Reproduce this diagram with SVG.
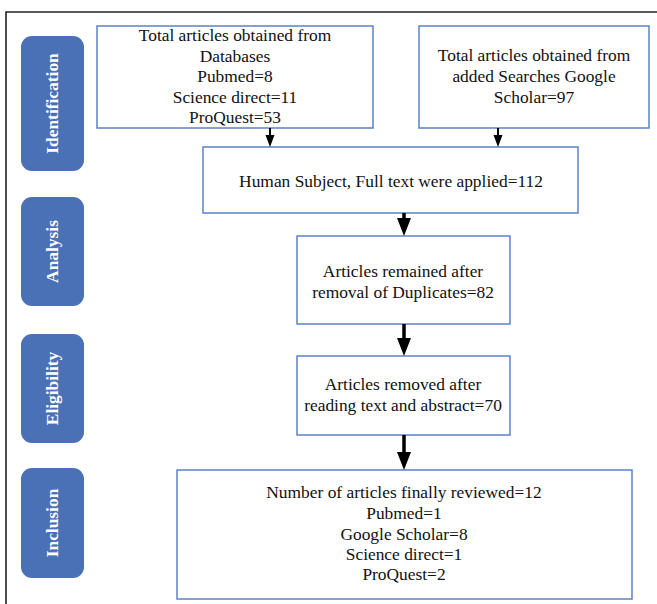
<svg xmlns="http://www.w3.org/2000/svg" width="657" height="604" viewBox="0 0 657 604">
<defs>
<style>
.box{fill:#ffffff;stroke:#5B82C8;stroke-width:1.5}
.pill{fill:#4A70B6}
.t{font-family:"Liberation Serif","Times New Roman",serif;font-size:17.4px;fill:#111;text-anchor:middle}
.p{font-family:"Liberation Serif","Times New Roman",serif;font-size:17.4px;font-weight:bold;fill:#ffffff;text-anchor:middle}
.sa{stroke:#000;stroke-width:2;fill:none}
.la{stroke:#000;stroke-width:3.5;fill:none}
</style>
</defs>
<rect width="657" height="604" fill="#ffffff"/>
<path d="M6,604 V12 H657" fill="none" stroke="#222" stroke-width="1.6"/>
<g id="stage-identification"><rect class="pill" x="21" y="36" width="63" height="135" rx="11"/><text class="p" transform="translate(58,103.5) rotate(-90)">Identification</text></g>
<g id="stage-analysis"><rect class="pill" x="21" y="197" width="63" height="109" rx="11"/><text class="p" transform="translate(58,251.5) rotate(-90)">Analysis</text></g>
<g id="stage-eligibility"><rect class="pill" x="21" y="334" width="63" height="109" rx="11"/><text class="p" transform="translate(58,388.5) rotate(-90)">Eligibility</text></g>
<g id="stage-inclusion"><rect class="pill" x="21" y="468" width="63" height="110" rx="11"/><text class="p" transform="translate(58,523) rotate(-90)">Inclusion</text></g>
<g id="databases"><rect class="box" x="97" y="26" width="276" height="102"/>
<text class="t" x="235" y="41">Total articles obtained from</text>
<text class="t" x="235" y="61.5">Databases</text>
<text class="t" x="235" y="82">Pubmed=8</text>
<text class="t" x="235" y="102.5">Science direct=11</text>
<text class="t" x="235" y="123">ProQuest=53</text></g>
<g id="google-scholar"><rect class="box" x="419" y="26" width="230" height="102"/>
<text class="t" x="534" y="61">Total articles obtained from</text>
<text class="t" x="534" y="82">added Searches Google</text>
<text class="t" x="534" y="102.5">Scholar=97</text></g>
<g id="human-subject"><rect class="box" x="203" y="147" width="375" height="66"/>
<text class="t" x="391" y="187">Human Subject, Full text were applied=112</text></g>
<g id="duplicates"><rect class="box" x="297" y="236" width="213" height="88"/>
<text class="t" x="403" y="277">Articles remained after</text>
<text class="t" x="403" y="298">removal of Duplicates=82</text></g>
<g id="removed"><rect class="box" x="297" y="356" width="213" height="79"/>
<text class="t" x="403" y="390">Articles removed after</text>
<text class="t" x="403" y="411">reading text and abstract=70</text></g>
<g id="final"><rect class="box" x="177" y="470" width="455" height="129"/>
<text class="t" x="404" y="498">Number of articles finally reviewed=12</text>
<text class="t" x="404" y="519">Pubmed=1</text>
<text class="t" x="404" y="540">Google Scholar=8</text>
<text class="t" x="404" y="560">Science direct=1</text>
<text class="t" x="404" y="580">ProQuest=2</text></g>
<g id="connectors">
<line class="sa" x1="270" y1="128" x2="270" y2="136"/><polygon points="265.5,135 274.5,135 270,147"/>
<line class="sa" x1="498" y1="128" x2="498" y2="136"/><polygon points="493.5,135 502.5,135 498,147"/>
<line class="la" x1="404" y1="213" x2="404" y2="220"/><polygon points="397,218 411,218 404,236"/>
<line class="la" x1="404" y1="324" x2="404" y2="340"/><polygon points="397,338 411,338 404,356"/>
<line class="la" x1="404" y1="435" x2="404" y2="454"/><polygon points="397,452 411,452 404,470"/>
</g>
</svg>
